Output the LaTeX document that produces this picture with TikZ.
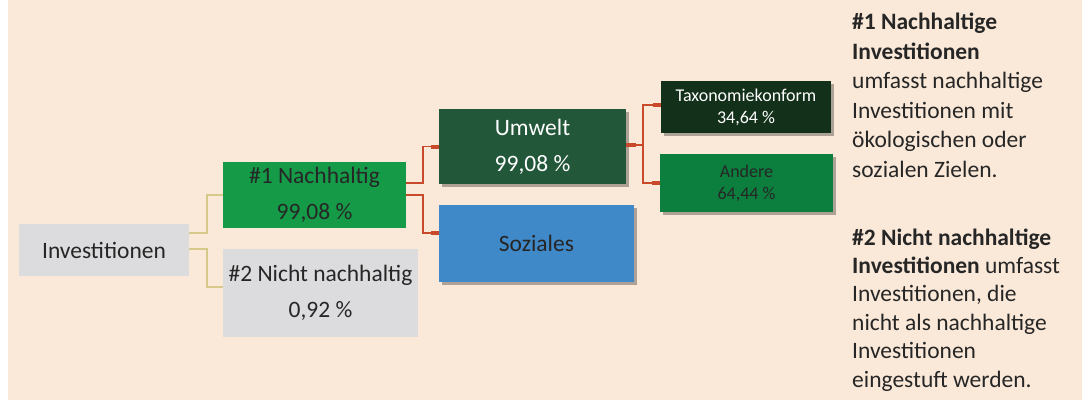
\documentclass[tikz,border=0pt]{standalone}
\usepackage{fontspec}
\setmainfont{Carlito}
\usetikzlibrary{shadows,arrows.meta}
\definecolor{bgc}{HTML}{FAE9D8}
\definecolor{boxgray}{HTML}{DCDCDE}
\definecolor{nachgreen}{HTML}{159A48}
\definecolor{umweltgreen}{HTML}{22573A}
\definecolor{sozblue}{HTML}{3F89C9}
\definecolor{taxgreen}{HTML}{13301A}
\definecolor{andgreen}{HTML}{0C7E3E}
\definecolor{yline}{HTML}{D6C98A}
\definecolor{oline}{HTML}{C94A2B}
\definecolor{txt}{HTML}{262626}
\begin{document}
\begin{tikzpicture}[x=1pt,y=-1pt,
  box/.style={rectangle, inner sep=0pt, align=center, text=txt,
    font=\fontsize{23.5}{36}\selectfont},
  smallbox/.style={box, font=\fontsize{18}{22}\selectfont},
  shad/.style={drop shadow={shadow xshift=3pt,shadow yshift=-3pt,opacity=.3,fill=black}},
  yl/.style={draw=yline, line width=1.6pt},
  ol/.style={draw=oline, line width=1.5pt, -{Rectangle[length=8pt 0,width=4pt 0]}},
  desc/.style={anchor=base west, align=left, inner sep=0pt, text=txt}]
\useasboundingbox (0,0) rectangle (1089,400);
\fill[bgc] (8,0) rectangle (1082,400);

\node[box, fill=boxgray, minimum width=170pt, minimum height=52pt] (inv) at (104,250) {Investitionen};
\node[box, fill=nachgreen, minimum width=183pt, minimum height=66pt] (n1) at (314.5,195) {\#1 Nachhaltig\\99,08 \%};
\node[box, fill=boxgray, minimum width=195pt, minimum height=88pt] (n2) at (320.5,293) {\#2 Nicht nachhaltig\\0,92 \%};
\node[box, shad, fill=umweltgreen, text=white, minimum width=187pt, minimum height=75pt] (um) at (532.5,146.5) {Umwelt\\99,08 \%};
\node[box, shad, fill=sozblue, minimum width=195pt, minimum height=77pt] (soz) at (536.5,243.5) {Soziales};
\node[smallbox, shad, fill=taxgreen, text=white, minimum width=170pt, minimum height=52pt] (tax) at (746,107) {Taxonomiekonform\\34,64 \%};
\node[smallbox, shad, fill=andgreen, minimum width=173pt, minimum height=58pt] (and) at (746.5,183) {Andere\\64,44 \%};

\draw[yl] ([yshift=17pt]inv.east) -- ++(18pt,0) |- (n1.west);
\draw[yl] ([yshift=1pt]inv.east) -- ++(18pt,0) |- ([yshift=6pt]n2.west);
\draw[ol] ([yshift=12pt]n1.east) -- ++(17pt,0) |- (um.west);
\draw[ol] (n1.east) -- ++(17pt,0) |- ([yshift=10.5pt]soz.west);
\draw[ol] ([yshift=1.5pt]um.east) -- ++(17pt,0) |- ([yshift=2pt]tax.west);
\draw[ol] ([yshift=1.5pt]um.east) -- ++(17pt,0) |- (and.west);
\draw[draw=oline, line width=4pt] ([yshift=1.5pt]um.east) -- ++(10pt,0);

\node[desc, font=\fontsize{23.5}{29.5}\selectfont] (d1) at (852,177)
  {\textbf{\#1 Nachhaltige}\\\textbf{Investitionen}\\umfasst nachhaltige\\Investitionen mit\\ökologischen oder\\sozialen Zielen.};
\node[desc, font=\fontsize{23.5}{28.4}\selectfont] (d2) at (852,387)
  {\textbf{\#2 Nicht nachhaltige}\\\textbf{Investitionen} umfasst\\Investitionen, die\\nicht als nachhaltige\\Investitionen\\eingestuft werden.};
\end{tikzpicture}
\end{document}
